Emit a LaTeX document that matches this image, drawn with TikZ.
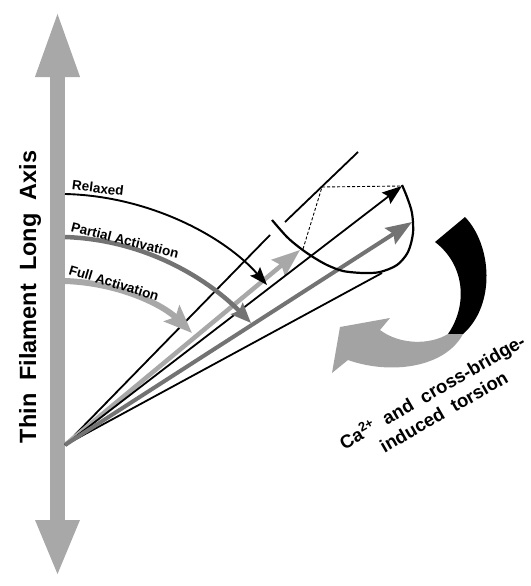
\documentclass[tikz,border=0pt]{standalone}
\usepackage{fontspec}
\setmainfont{Liberation Sans}
\usetikzlibrary{arrows.meta}
\definecolor{axisgray}{gray}{0.66}
\definecolor{midgray}{gray}{0.45}
\definecolor{torsgray}{gray}{0.64}

\begin{document}
\begin{tikzpicture}[x=1pt,y=-1pt,
  ray/.style={line width=1.8pt},
  lbl/.style={font=\fontsize{13.5}{15}\selectfont\bfseries, inner sep=0pt}]
\useasboundingbox (0,0) rectangle (530,586);
% long axis
\coordinate (axtop) at (57.5,10);
\coordinate (axbot) at (57.5,577);
\draw[axisgray, line width=15pt, {Triangle[length=57pt,width=40pt]}-{Triangle[length=67pt,width=40pt]}] (axbot) -- (axtop);
\node[rotate=90, font=\fontsize{23.5}{26}\selectfont\bfseries] (axis) at (30,297) {Thin~~Filament~~Long~~Axis};
% fan of rays
\coordinate (O) at (65,445);
\coordinate (topA) at (270,235);
\coordinate (topB) at (285,222);
\coordinate (topC) at (358,152);
\coordinate (fullT) at (300,250);
\coordinate (relT) at (402,186);
\coordinate (partT) at (412,222);
\coordinate (botT) at (382,273);
\draw[ray] (O) -- (topA);
\draw[ray] (topB) -- (topC);
\draw[ray] (O) -- (botT);
\draw[axisgray, line width=4.5pt, -{Stealth[length=28pt,width=21pt,inset=4pt]}] (O) -- (fullT);
\draw[ray, -{Stealth[length=20pt,width=14pt,inset=3pt]}] (O) -- (relT);
\draw[midgray, line width=4pt, -{Stealth[length=26pt,width=19pt,inset=4pt]}] (O) -- (partT);
% cone base
\draw[line width=2.2pt] plot[smooth] coordinates {(272,220) (287,237) (300,248) (313,257) (327,265) (343,271) (363,273) (380,272) (397,265) (408,252) (413,233) (412,213) (407,197) (402,185)};
\coordinate (dotA) at (322,187);
\coordinate (dotB) at (303,249);
\draw[dash pattern=on 3pt off 2pt, line width=0.9pt] (dotB) -- (dotA) -- (relT);
% curved state arrows
\coordinate (rel0) at (65,194);
\coordinate (relE) at (267,285);
\coordinate (part0) at (65,237);
\coordinate (partE) at (251,323);
\coordinate (full0) at (65,281);
\coordinate (fullE) at (192,333);
\draw[line width=1.9pt, -{Stealth[length=18pt,width=13pt,inset=3pt]}] (rel0) .. controls (150,196) and (225,237) .. (relE);
\draw[midgray, line width=4.5pt, -{Stealth[length=20pt,width=16pt,inset=3pt]}] (part0) .. controls (150,240) and (212,283) .. (partE);
\draw[axisgray, line width=6pt, -{Stealth[length=28pt,width=22pt,inset=5pt]}] (full0) .. controls (120,283) and (163,305) .. (fullE);
\node[lbl, rotate=-7] (relaxed) at (98,188) {Relaxed};
\node[lbl, rotate=-14] (partial) at (125,240) {Partial Activation};
\node[lbl, rotate=-17] (full) at (114,283) {Full Activation};
% torsion arrow
\fill (435,242) -- (465,217) .. controls (492,245) and (496,305) .. (463,334) -- (448,334) .. controls (468,305) and (465,265) .. (435,242) -- cycle;
\fill[torsgray] (463,334) .. controls (445,368) and (390,375) .. (348,360) -- (332,373) -- (340,327) -- (390,318) -- (380,330) .. controls (400,345) and (430,345) .. (448,334) -- cycle;
\node[rotate=30, align=center, inner sep=0pt, font=\fontsize{18.5}{23}\selectfont\bfseries] (torsion) at (437.5,401) {Ca\textsuperscript{2+}~~and~~cross-bridge-\\induced~~torsion};
\end{tikzpicture}
\end{document}
